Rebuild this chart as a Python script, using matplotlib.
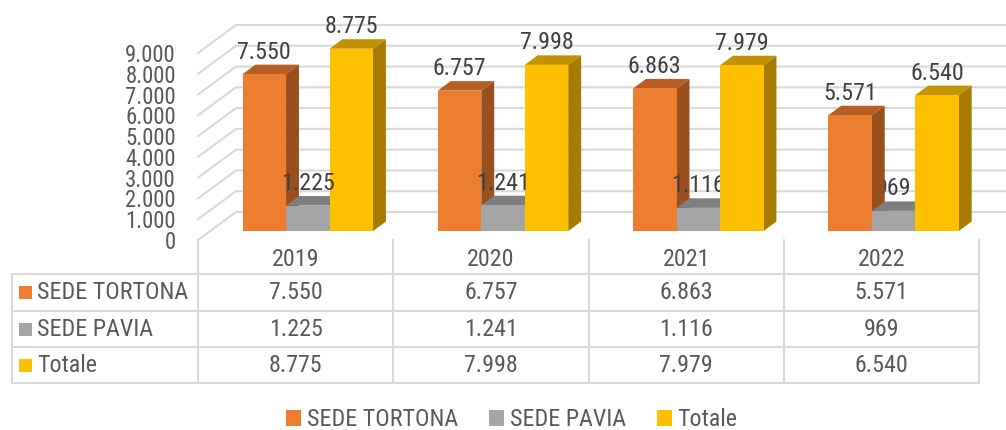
import matplotlib
matplotlib.use("Agg")
import matplotlib.pyplot as plt
from matplotlib import font_manager
from matplotlib.patches import Polygon, Rectangle, Patch

years = ["2019", "2020", "2021", "2022"]
series = ["SEDE TORTONA", "SEDE PAVIA", "Totale"]
tortona = [7550, 6757, 6863, 5571]
pavia = [1225, 1241, 1116, 969]
totale = [8775, 7998, 7979, 6540]
yticks = [0, 1000, 2000, 3000, 4000, 5000, 6000, 7000, 8000, 9000]

front_colors = ["#ED7D31", "#A5A5A5", "#FFC000"]
top_colors = ["#B65E24", "#7F7F7F", "#C29200"]
side_colors = ["#9A4F1E", "#6B6B6B", "#A67C00"]
text_col = "#595959"
grid_col = "#D9D9D9"

names = {f.name for f in font_manager.fontManager.ttflist}
font = next((f for f in ["Roboto Condensed", "Archivo Narrow", "Liberation Sans"] if f in names), "DejaVu Sans")
plt.rcParams["font.family"] = [font, "DejaVu Sans"]
FS = 17.3


def fmt(v):
    return f"{v:,}".replace(",", ".")


W, H = 1006, 430
fig = plt.figure(figsize=(W / 100, H / 100), dpi=100)

# main chart axes: x in categories (front plane), y in values
x0, x1 = 198, 979
y0, y9 = 240, 53
ax = fig.add_axes([x0 / W, (H - y0) / H, (x1 - x0) / W, (y0 - y9) / H])
ax.set_xlim(0, 4)
ax.set_ylim(0, 9000)
px_x = 4 / (x1 - x0)          # category units per pixel
px_y = 9000 / (y0 - y9)       # value units per pixel

depth_dx, depth_dy = 38 * px_x, 28 * px_y   # full floor depth
f_front, f_bar = 0.32, 0.34

# back wall gridlines + left diagonal
for t in yticks:
    ax.plot([0, depth_dx, 4 + depth_dx], [t, t + depth_dy, t + depth_dy],
            color=grid_col, lw=1.5, clip_on=False, zorder=1)

ax.set_yticks(yticks)
ax.set_yticklabels([fmt(t) for t in yticks], color=text_col, fontsize=16.4)
ax.tick_params(axis="y", length=0, pad=16)
ax.set_xticks([])
for s in ax.spines.values():
    s.set_visible(False)
ax.patch.set_visible(False)

bw = 0.2227
sx, sy = f_front * depth_dx, f_front * depth_dy
bdx, bdy = f_bar * depth_dx, f_bar * depth_dy
data = [tortona, pavia, totale]
z = 2
for i in range(len(years)):
    left0 = i + 0.5 - 1.5 * bw + sx
    for k, vals in enumerate(data):
        v = vals[i]
        xl = left0 + k * bw
        xr = xl + bw
        yb = sy
        yt = sy + v
        ax.add_patch(Polygon([(xr, yb), (xr + bdx, yb + bdy), (xr + bdx, yt + bdy), (xr, yt)],
                             closed=True, facecolor=side_colors[k], edgecolor="none",
                             clip_on=False, zorder=z))
        ax.add_patch(Polygon([(xl, yt), (xr, yt), (xr + bdx, yt + bdy), (xl + bdx, yt + bdy)],
                             closed=True, facecolor=top_colors[k], edgecolor="none",
                             clip_on=False, zorder=z))
        ax.bar(xl, v, width=bw, bottom=yb, align="edge", color=front_colors[k],
               edgecolor="none", clip_on=False, zorder=z + 0.5)
        ax.text(xl + bw / 2, yt + bdy + 6 * px_y, fmt(v), ha="center", va="baseline",
                color="#404040", fontsize=FS, zorder=10, clip_on=False)
        z += 1

# data table
t_left, t_top, t_bot = 12, 240, 383
tab = fig.add_axes([t_left / W, (H - t_bot) / H, (x1 - t_left) / W, (t_bot - t_top) / H])
lab_w = (x0 - t_left) * px_x
tab.set_xlim(-lab_w, 4)
tab.set_ylim(t_bot - t_top, 0)
tab.axis("off")
rows = [0, 34, 71, 107, 143]
for c in range(5):
    tab.plot([c, c], [0, rows[-1]], color=grid_col, lw=1.5, clip_on=False)
tab.plot([-lab_w, -lab_w], [rows[1], rows[-1]], color=grid_col, lw=1.5, clip_on=False)
for r in rows[1:]:
    tab.plot([-lab_w, 4], [r, r], color=grid_col, lw=1.5, clip_on=False)

for i, yr in enumerate(years):
    tab.text(i + 0.5, (rows[0] + rows[1]) / 2 + 2, yr, ha="center", va="center",
             color=text_col, fontsize=FS)
for k, (name, vals) in enumerate(zip(series, data)):
    yc = (rows[k + 1] + rows[k + 2]) / 2
    tab.add_patch(Rectangle((-lab_w + 7 * px_x, yc - 6.5), 13 * px_x, 13,
                            facecolor=front_colors[k], edgecolor="none"))
    tab.text(-lab_w + 25 * px_x, yc, name, ha="left", va="center", color=text_col, fontsize=FS)
    for i, v in enumerate(vals):
        tab.text(i + 0.5, yc, fmt(v), ha="center", va="center", color=text_col, fontsize=FS)

# legend
handles = [Patch(facecolor=c, edgecolor="none") for c in front_colors]
fig.legend(handles, series, loc="center", bbox_to_anchor=(512 / W, (H - 420) / H),
           ncol=3, frameon=False, handlelength=0.6, handleheight=0.6,
           handletextpad=0.25, columnspacing=1.3, labelcolor=text_col, fontsize=FS)

fig.savefig("out.png", dpi=100)
